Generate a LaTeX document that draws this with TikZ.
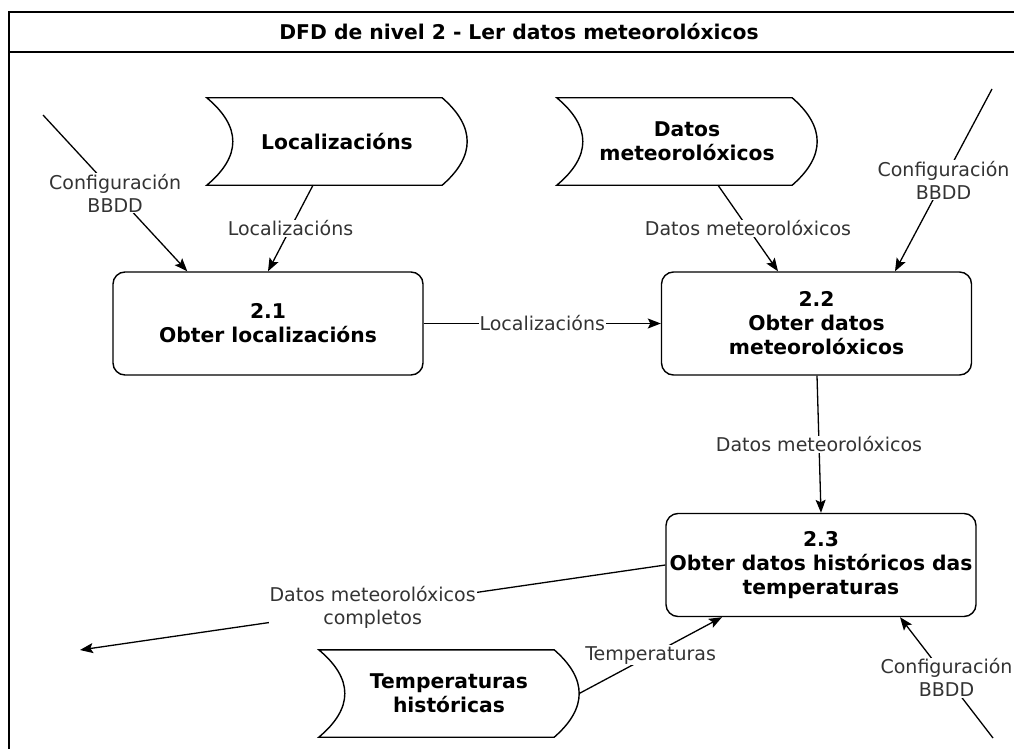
\documentclass[tikz,border=0pt]{standalone}
\usepackage{fontspec}
\setmainfont{DejaVu Sans}
\usetikzlibrary{arrows.meta,calc}

\definecolor{labelgray}{HTML}{333333}
\newcommand\boldtext{\fontsize{20.3}{24}\selectfont\bfseries}
\newcommand\lbltext{\fontsize{19}{23}\selectfont}

% outline of a data store: concave left side, convex right side
\newcommand\storeoutline[1]{%
  \draw[line width=1.4pt]
    (#1.north west) -- ($(#1.north east)+(-25,0)$)
    .. controls ($(#1.north east)+(8.3,29)$) and ($(#1.south east)+(8.3,-29)$) ..
    ($(#1.south east)+(-25,0)$) -- (#1.south west)
    .. controls ($(#1.south west)+(34.7,-29)$) and ($(#1.north west)+(34.7,29)$) ..
    cycle;}

\tikzset{
  proc/.style={draw, line width=1.4pt, rounded corners=12pt,
    minimum width=310pt, minimum height=103pt, align=center,
    font=\boldtext, inner sep=0pt},
  store/.style={minimum width=260pt, minimum height=87pt, align=center,
    font=\boldtext, inner sep=0pt},
  flow/.style={line width=1.3pt, -{Stealth[length=13pt,width=10pt,inset=2.5pt]}},
  lbl/.style={fill=white, font=\lbltext, text=labelgray, align=center,
    inner sep=1pt},
}

\begin{document}
\begin{tikzpicture}[x=1pt, y=-1pt]
  \useasboundingbox (0,0) rectangle (1014,749);
  \clip (0,0) rectangle (1014,749);

  % frame and title bar
  \draw[line width=1.4pt] (9,12) rectangle (1040,800);
  \draw[line width=1.4pt] (9,52) -- (1040,52);
  \node[font=\boldtext] (title) at (519,32) {DFD de nivel 2 - Ler datos meteorolóxicos};

  % processes
  \node[proc] (p21) at (268,323.5) {2.1\\Obter localizacións};
  \node[proc] (p22) at (816.5,323.5) {2.2\\Obter datos\\meteorolóxicos};
  \node[proc] (p23) at (821,565) {2.3\\Obter datos históricos das\\temperaturas};

  % data stores
  \node[store] (s1) at (337,141.5) {Localizacións};
  \node[store] (s2) at (687,141.5) {Datos\\meteorolóxicos};
  \node[store] (s3) at (449,693.5) {Temperaturas\\históricas};
  \storeoutline{s1}
  \storeoutline{s2}
  \storeoutline{s3}

  % free ends of external flows
  \coordinate (cfgA) at (43,115);
  \coordinate (cfgB) at (992,89);
  \coordinate (cfgC) at (993,738);
  \coordinate (out) at (80,650);

  % flows
  \draw[flow] (cfgA) -- node[lbl] {Configuración\\BBDD} ($(p21.north west)+(75,0)$);
  \draw[flow] ($(s1.south)+(-24,0)$) -- node[lbl] {Localizacións} (p21.north);
  \draw[flow] ($(s2.south)+(31,0)$) -- node[lbl] {Datos meteorolóxicos} ($(p22.north)+(-38.5,0)$);
  \draw[flow] (cfgB) -- node[lbl] {Configuración\\BBDD} ($(p22.north)+(78.5,0)$);
  \draw[flow] (p21.east) -- node[lbl] {Localizacións} (p22.west);
  \draw[flow] ($(p22.south)+(0.5,0)$) -- node[lbl] {Datos meteorolóxicos} (p23.north);
  \draw[flow] (p23.west) -- node[lbl] {Datos meteorolóxicos\\completos} (out);
  \draw[flow] (s3.east) -- node[lbl] {Temperaturas} ($(p23.south)+(-99,0)$);
  \draw[flow] (cfgC) -- node[lbl] {Configuración\\BBDD} ($(p23.south)+(79,0)$);
\end{tikzpicture}
\end{document}
